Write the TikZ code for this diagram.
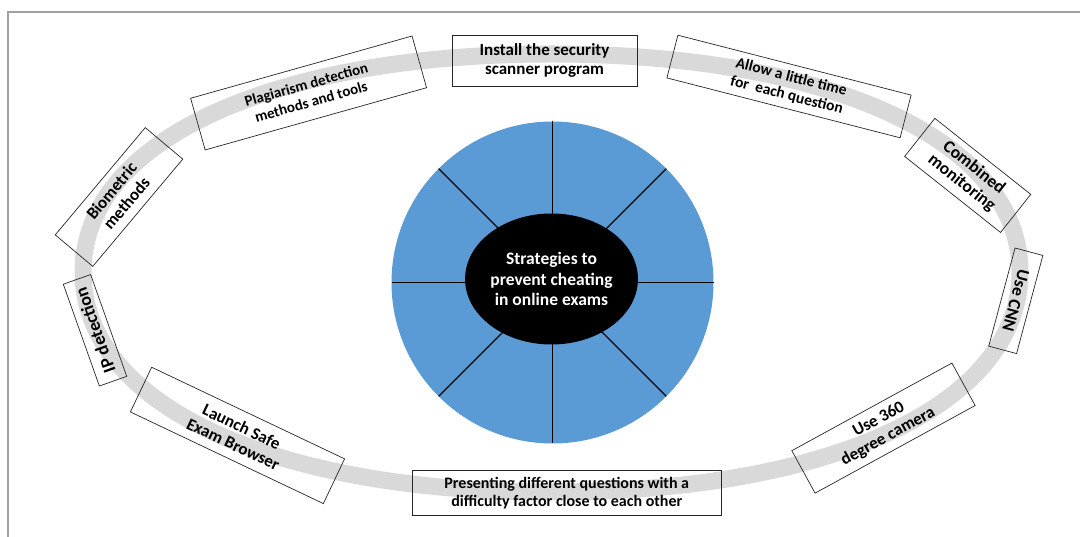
\documentclass[tikz,border=0pt]{standalone}
\usepackage{fontspec}
\setmainfont{Carlito}
\usetikzlibrary{shapes.geometric}
\definecolor{ringgray}{RGB}{217,217,217}
\definecolor{wheelblue}{RGB}{91,155,213}
\definecolor{framegray}{RGB}{160,160,160}
\begin{document}
\begin{tikzpicture}[x=1pt,y=-1pt,
  lbl/.style 2 args={draw=black!85, line width=0.7pt, align=center, inner sep=0pt,
    font=\bfseries\fontsize{#1}{#2}\selectfont, text=black},
  spoke/.style={line width=1.1pt, black},
]
\useasboundingbox (0,0) rectangle (1080,537);

% outer frame (top and left edges)
\draw[framegray, line width=1.5pt] (8,537) -- (8,12) -- (1080,12);

% grey ring along which the strategies are placed
\draw[ringgray, line width=17pt]
  (83,272) .. controls (83,141.2) and (270.4,54) .. (551.5,54)
           .. controls (832.6,54) and (1020,141.2) .. (1020,272)
           .. controls (1020,404) and (832.6,492) .. (551.5,492)
           .. controls (270.4,492) and (83,404) .. (83,272) -- cycle;

% central wheel
\coordinate (wc) at (552.5,282.5);
\fill[wheelblue] (wc) circle[radius=161pt];
\foreach \a in {0,45,...,315}
  \draw[spoke] (wc) -- ++(\a:161pt);
\node[fill=black, ellipse, minimum width=138pt, minimum height=131pt, inner sep=0pt,
      text=white, align=center, font=\bfseries\fontsize{17.5}{20.5}\selectfont]
  (hub) at (551.5,279) {Strategies to\\prevent cheating\\in online exams};

% strategy boxes
\node[lbl={17}{19.5}, minimum width=185pt, minimum height=51pt] (install) at (544.5,60.5)
  {Install the security\\scanner program};
\node[lbl={15.5}{18.5}, rotate=-14.4, minimum width=240.8pt, minimum height=44.1pt] (allow) at (789,86.5)
  {Allow a little time\\for\ \ each question};
\node[lbl={17.5}{19.5}, rotate=-38.4, minimum width=122.4pt, minimum height=48.6pt] (combined) at (967.7,175.4)
  {Combined\\monitoring};
\node[lbl={17.5}{19.5}, rotate=-105, minimum width=101.6pt, minimum height=28.8pt] (cnn) at (1015.8,300.8)
  {Use CNN};
\node[lbl={17}{19.5}, rotate=28.7, minimum width=182.5pt, minimum height=48.4pt] (camera) at (883.5,428.1)
  {Use 360\\degree camera};
\node[lbl={16}{18}, minimum width=309.5pt, minimum height=45pt] (questions) at (566.8,492.7)
  {Presenting different questions with a\\difficulty factor close to each other};
\node[lbl={17}{19.5}, rotate=-25.4, minimum width=213.6pt, minimum height=49.5pt] (seb) at (237.5,435.4)
  {Launch Safe\\Exam Browser};
\node[lbl={18}{20}, rotate=109.5, minimum width=108pt, minimum height=29pt] (ip) at (95,330.3)
  {IP detection};
\node[lbl={17}{19.5}, rotate=50, minimum width=140pt, minimum height=49pt] (bio) at (119,197)
  {Biometric\\methods};
\node[lbl={15}{18}, rotate=15.7, minimum width=230pt, minimum height=53.7pt] (plag) at (308.6,93)
  {Plagiarism detection\\methods and tools};
\end{tikzpicture}
\end{document}
